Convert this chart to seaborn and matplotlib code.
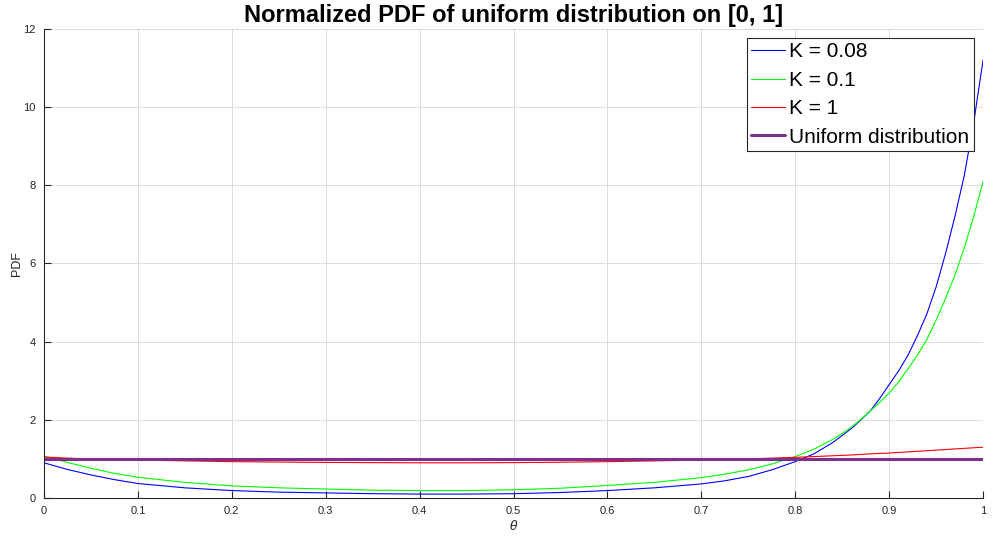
import matplotlib
matplotlib.use("Agg")
import matplotlib.pyplot as plt
import seaborn as sns

theta = [0.0, 0.025, 0.05, 0.075, 0.1, 0.15, 0.2, 0.25, 0.3, 0.35, 0.4, 0.45, 0.5, 0.55,
         0.6, 0.65, 0.7, 0.725, 0.75, 0.775, 0.8, 0.82, 0.84, 0.85, 0.86, 0.87, 0.88,
         0.89, 0.9, 0.91, 0.92, 0.93, 0.94, 0.95, 0.96, 0.97, 0.98, 0.99, 1.0]
pdf_k008 = [0.90, 0.73, 0.59, 0.47, 0.37, 0.26, 0.19, 0.15, 0.13, 0.11, 0.10, 0.10, 0.11,
            0.14, 0.19, 0.26, 0.36, 0.44, 0.55, 0.72, 0.93, 1.13, 1.42, 1.60, 1.78, 2.00,
            2.23, 2.55, 2.90, 3.25, 3.65, 4.15, 4.70, 5.40, 6.25, 7.20, 8.25, 9.60, 11.2]
pdf_k01 = [1.07, 0.91, 0.76, 0.63, 0.53, 0.40, 0.31, 0.26, 0.23, 0.20, 0.19, 0.19, 0.21,
           0.25, 0.32, 0.40, 0.52, 0.61, 0.72, 0.87, 1.06, 1.25, 1.50, 1.65, 1.82, 2.01,
           2.23, 2.45, 2.68, 2.97, 3.30, 3.65, 4.05, 4.55, 5.10, 5.70, 6.40, 7.20, 8.10]
pdf_k1 = [1.05, 1.02, 1.00, 0.985, 0.97, 0.95, 0.93, 0.92, 0.91, 0.905, 0.90, 0.90, 0.905,
          0.915, 0.93, 0.95, 0.97, 0.985, 1.00, 1.02, 1.04, 1.06, 1.08, 1.09, 1.10, 1.115,
          1.13, 1.14, 1.15, 1.165, 1.18, 1.195, 1.21, 1.225, 1.24, 1.255, 1.27, 1.285, 1.30]
uniform_x = [0.0, 1.0]
uniform_y = [1.0, 1.0]
labels = ["K = 0.08", "K = 0.1", "K = 1", "Uniform distribution"]
x_ticks = [0, 0.1, 0.2, 0.3, 0.4, 0.5, 0.6, 0.7, 0.8, 0.9, 1]
y_ticks = [0, 2, 4, 6, 8, 10, 12]

sns.set_style("whitegrid")
plt.rcParams['font.family'] = ['Liberation Sans', 'DejaVu Sans']
plt.rcParams['mathtext.fontset'] = 'dejavusans'

fig = plt.figure(figsize=(9.93, 5.41), dpi=100)
ax = fig.add_axes([0.0443, 0.0795, 0.9457, 0.867])

sns.lineplot(x=theta, y=pdf_k008, ax=ax, color=(0, 0, 1), linewidth=0.8, label=labels[0])
sns.lineplot(x=theta, y=pdf_k01, ax=ax, color=(0, 1, 0), linewidth=0.8, label=labels[1])
sns.lineplot(x=theta, y=pdf_k1, ax=ax, color=(1, 0, 0), linewidth=0.8, label=labels[2])
sns.lineplot(x=uniform_x, y=uniform_y, ax=ax, color="#7E2F8E", linewidth=2.2, label=labels[3])

ax.set_xlim(0, 1)
ax.set_ylim(0, 12)
ax.set_xticks(x_ticks)
ax.set_xticklabels([f"{t:g}" for t in x_ticks])
ax.set_yticks(y_ticks)
ax.grid(True, color="#dcdcdc", linewidth=0.7)
for s in ["top", "right"]:
    ax.spines[s].set_visible(False)
for s in ["left", "bottom"]:
    ax.spines[s].set_color("#262626")
    ax.spines[s].set_linewidth(0.8)
ax.tick_params(direction="in", length=5, width=0.8, colors="#262626",
               labelsize=8, left=True, bottom=True, pad=6)
ax.set_xlabel(r"$\theta$", fontsize=9, color="#262626", labelpad=2)
ax.set_ylabel("PDF", fontsize=9, color="#262626", labelpad=0)
ax.set_title("Normalized PDF of uniform distribution on [0, 1]", fontsize=17,
             fontweight="bold", pad=5, color="black")

leg = ax.legend(loc="upper right", fontsize=15, frameon=True, fancybox=False,
                framealpha=1, edgecolor="#262626", borderpad=0.2, labelspacing=0.45,
                handlelength=1.65, handletextpad=0.2, borderaxespad=0.45,
                labelcolor="black")
leg.get_frame().set_linewidth(0.8)

fig.savefig("out.png", dpi=100)
